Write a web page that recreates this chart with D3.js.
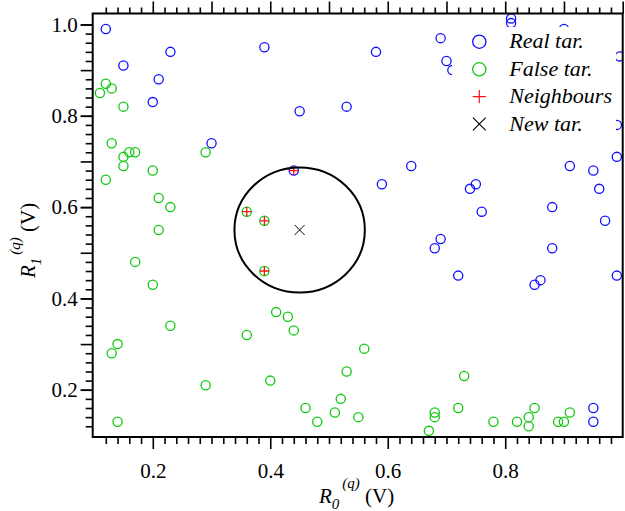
<!DOCTYPE html>
<html>
<head>
<meta charset="utf-8">
<script src="https://cdn.jsdelivr.net/npm/d3@7"></script>
<style>
  body { margin: 0; background: #fff; }
</style>
</head>
<body>
<div id="chart"></div>
<script>
// real targets (blue)
const realX = [0.12, 0.23, 0.15, 0.21, 0.20, 0.39, 0.45, 0.53, 0.30, 0.44,
               0.58, 0.69, 0.70, 0.71, 0.81, 0.81, 0.90, 0.995, 0.99, 0.99,
               0.91, 0.95, 0.96, 0.88, 0.64, 0.59, 0.75, 0.74, 0.76, 0.97,
               0.69, 0.68, 0.88, 0.72, 0.86, 0.85, 0.99, 0.95, 0.95];
const realY = [0.99, 0.94, 0.91, 0.88, 0.83, 0.95, 0.81, 0.82, 0.74, 0.68,
               0.94, 0.97, 0.92, 0.90, 1.013, 1.003, 0.99, 0.93, 0.78, 0.71,
               0.69, 0.68, 0.64, 0.60, 0.69, 0.65, 0.65, 0.64, 0.59, 0.57,
               0.53, 0.51, 0.51, 0.45, 0.44, 0.43, 0.45, 0.16, 0.13];

// false targets (green)
const falseX = [0.12, 0.13, 0.11, 0.15, 0.13, 0.16, 0.17, 0.15, 0.15, 0.29,
                0.20, 0.12, 0.21, 0.23, 0.36, 0.39, 0.21, 0.17, 0.20, 0.39,
                0.23, 0.14, 0.13, 0.14, 0.29, 0.36, 0.41, 0.43, 0.44, 0.40,
                0.46, 0.48, 0.51, 0.52, 0.53, 0.55, 0.56, 0.73, 0.72, 0.68,
                0.68, 0.67, 0.78, 0.82, 0.84, 0.84, 0.85, 0.89, 0.90, 0.91];
const falseY = [0.87, 0.86, 0.85, 0.82, 0.74, 0.72, 0.72, 0.71, 0.69, 0.72,
                0.68, 0.66, 0.62, 0.60, 0.59, 0.57, 0.55, 0.48, 0.43, 0.46,
                0.34, 0.30, 0.28, 0.13, 0.21, 0.32, 0.37, 0.36, 0.33, 0.22,
                0.16, 0.13, 0.15, 0.18, 0.24, 0.14, 0.29, 0.23, 0.16, 0.15,
                0.14, 0.11, 0.13, 0.13, 0.14, 0.12, 0.16, 0.13, 0.13, 0.15];

// neighbours of the new target
const neighX = [0.44, 0.36, 0.39, 0.39];
const neighY = [0.68, 0.59, 0.57, 0.46];

// new target and its search circle (radii in data units)
const newX = [0.45];
const newY = [0.55];
const circleR = [0.111, 0.137];

const legendLabels = ["Real tar.", "False tar.", "Neighbours", "New tar."];
const xTickLabels = [0.2, 0.4, 0.6, 0.8];
const yTickLabels = [0.2, 0.4, 0.6, 0.8, 1.0];

const serif = "Liberation Serif, DejaVu Serif, Tinos, Times New Roman, serif";

const widthSvg = 625;
const heightSvg = 511;
const margin = {top: 13.5, right: 2.3, bottom: 74, left: 92.7};
const width = widthSvg - margin.left - margin.right;
const height = heightSvg - margin.top - margin.bottom;

const blue = "#1010ff", green = "#10c810", red = "#ff1010";

const svg = d3.select("#chart").append("svg")
    .attr("width", widthSvg)
    .attr("height", heightSvg)
    .attr("font-family", serif);

const x = d3.scaleLinear().domain([0.0977, 1.0]).range([0, width]);
const y = d3.scaleLinear().domain([0.0965, 1.024]).range([height, 0]);

const g = svg.append("g")
    .attr("transform", "translate(" + margin.left + "," + margin.top + ")");

g.append("clipPath").attr("id", "clip")
  .append("rect").attr("width", width).attr("height", height);

const plot = g.append("g").attr("clip-path", "url(#clip)");

const realPts = realX.map((v, i) => ({x: v, y: realY[i]}));
const falsePts = falseX.map((v, i) => ({x: v, y: falseY[i]}));
const neighPts = neighX.map((v, i) => ({x: v, y: neighY[i]}));

plot.selectAll(".real").data(realPts).enter().append("circle")
    .attr("class", "real")
    .attr("cx", d => x(d.x)).attr("cy", d => y(d.y)).attr("r", 4.6)
    .attr("fill", "none").attr("stroke", blue).attr("stroke-width", 1.3);

plot.selectAll(".false").data(falsePts).enter().append("circle")
    .attr("class", "false")
    .attr("cx", d => x(d.x)).attr("cy", d => y(d.y)).attr("r", 4.6)
    .attr("fill", "none").attr("stroke", green).attr("stroke-width", 1.3);

function plus(s) { return "M" + (-s) + ",0H" + s + "M0," + (-s) + "V" + s; }
function cross(s) { return "M" + (-s) + "," + (-s) + "L" + s + "," + s + "M" + (-s) + "," + s + "L" + s + "," + (-s); }

plot.selectAll(".neigh").data(neighPts).enter().append("path")
    .attr("class", "neigh")
    .attr("transform", d => "translate(" + x(d.x) + "," + y(d.y) + ")")
    .attr("d", plus(4.6))
    .attr("fill", "none").attr("stroke", red).attr("stroke-width", 1.3);

// search circle
plot.append("ellipse")
    .attr("cx", x(newX[0])).attr("cy", y(newY[0]))
    .attr("rx", x(newX[0] + circleR[0]) - x(newX[0]))
    .attr("ry", y(newY[0]) - y(newY[0] + circleR[1]))
    .attr("fill", "none").attr("stroke", "#000").attr("stroke-width", 2);

plot.append("path")
    .attr("transform", "translate(" + x(newX[0]) + "," + y(newY[0]) + ")")
    .attr("d", cross(5))
    .attr("fill", "none").attr("stroke", "#000").attr("stroke-width", 1);

// legend
const leg = g.append("g").attr("transform", "translate(" + (452 - margin.left) + "," + (27 - margin.top) + ")");
leg.append("rect").attr("width", 164).attr("height", 110).attr("fill", "#fff");
const rowY = [14.7, 42.3, 69.7, 97];
leg.append("circle").attr("cx", 27.3).attr("cy", rowY[0]).attr("r", 6.6)
    .attr("fill", "none").attr("stroke", blue).attr("stroke-width", 1.3);
leg.append("circle").attr("cx", 27.3).attr("cy", rowY[1]).attr("r", 6.6)
    .attr("fill", "none").attr("stroke", green).attr("stroke-width", 1.3);
leg.append("path").attr("transform", "translate(27.3," + rowY[2] + ")").attr("d", plus(6.6))
    .attr("fill", "none").attr("stroke", red).attr("stroke-width", 1.2);
leg.append("path").attr("transform", "translate(27.3," + rowY[3] + ")").attr("d", cross(6.4))
    .attr("fill", "none").attr("stroke", "#000").attr("stroke-width", 1.1);
leg.selectAll(".lt").data(legendLabels).enter().append("text")
    .attr("class", "lt")
    .attr("x", 57.3)
    .attr("y", (d, i) => rowY[i] + 6.5)
    .attr("font-family", serif)
    .attr("font-size", 22)
    .attr("font-style", "italic")
    .text(d => d);

// axes: major and minor ticks
function styleAxis(sel) {
  sel.attr("font-family", serif).attr("font-size", 21);
  sel.select(".domain").remove();
  sel.selectAll("line").attr("stroke", "#000").attr("stroke-width", 1.6);
  sel.selectAll("text").attr("fill", "#000");
}

const minorX = d3.range(6, 51).map(i => i * 0.02).filter(v => Math.round(v * 100) % 20 !== 0);
const minorXTop = d3.range(6, 51).map(i => i * 0.02).filter(v => Math.round(v * 100) % 10 !== 0);
const majorXTop = d3.range(2, 11).map(i => i / 10);
const minorY = d3.range(6, 51).map(i => i * 0.02).filter(v => Math.round(v * 100) % 10 !== 0);
const majorY = d3.range(2, 11).map(i => i / 10);

g.append("g").attr("transform", "translate(0," + height + ")")
    .call(d3.axisBottom(x).tickValues(minorX).tickSize(7).tickFormat("")).call(styleAxis);
g.append("g").attr("transform", "translate(0," + height + ")")
    .call(d3.axisBottom(x).tickValues(xTickLabels).tickSize(12).tickPadding(14).tickFormat(d3.format(".1f")))
    .call(styleAxis);

g.append("g")
    .call(d3.axisTop(x).tickValues(minorXTop).tickSize(6).tickFormat("")).call(styleAxis);
g.append("g")
    .call(d3.axisTop(x).tickValues(majorXTop).tickSize(12).tickFormat("")).call(styleAxis);

g.append("g")
    .call(d3.axisLeft(y).tickValues(minorY).tickSize(7).tickFormat("")).call(styleAxis);
g.append("g")
    .call(d3.axisLeft(y).tickValues(majorY).tickSize(12).tickFormat("")).call(styleAxis);
g.append("g")
    .call(d3.axisLeft(y).tickValues(yTickLabels).tickSize(12).tickPadding(3).tickFormat(d3.format(".1f")))
    .call(styleAxis);

// frame
g.append("rect").attr("width", width).attr("height", height)
    .attr("fill", "none").attr("stroke", "#000").attr("stroke-width", 2);

// axis titles
const xt = svg.append("text").attr("x", 319).attr("y", 503)
    .attr("font-family", serif).attr("font-size", 21);
xt.append("tspan").attr("font-style", "italic").text("R");
xt.append("tspan").attr("font-style", "italic").attr("font-size", 15).attr("dy", 6).text("0");
xt.append("tspan").attr("font-style", "italic").attr("font-size", 15).attr("dx", 3).attr("dy", -21).text("(q)");
xt.append("tspan").attr("dy", 15).text(" (V)");

const yt = svg.append("text").attr("transform", "translate(35,278) rotate(-90)")
    .attr("font-family", serif).attr("font-size", 21);
yt.append("tspan").attr("font-style", "italic").text("R");
yt.append("tspan").attr("font-style", "italic").attr("font-size", 15).attr("dy", 6).text("1");
yt.append("tspan").attr("font-style", "italic").attr("font-size", 15).attr("dx", 3).attr("dy", -21).text("(q)");
yt.append("tspan").attr("dy", 15).text(" (V)");
</script>
</body>
</html>
